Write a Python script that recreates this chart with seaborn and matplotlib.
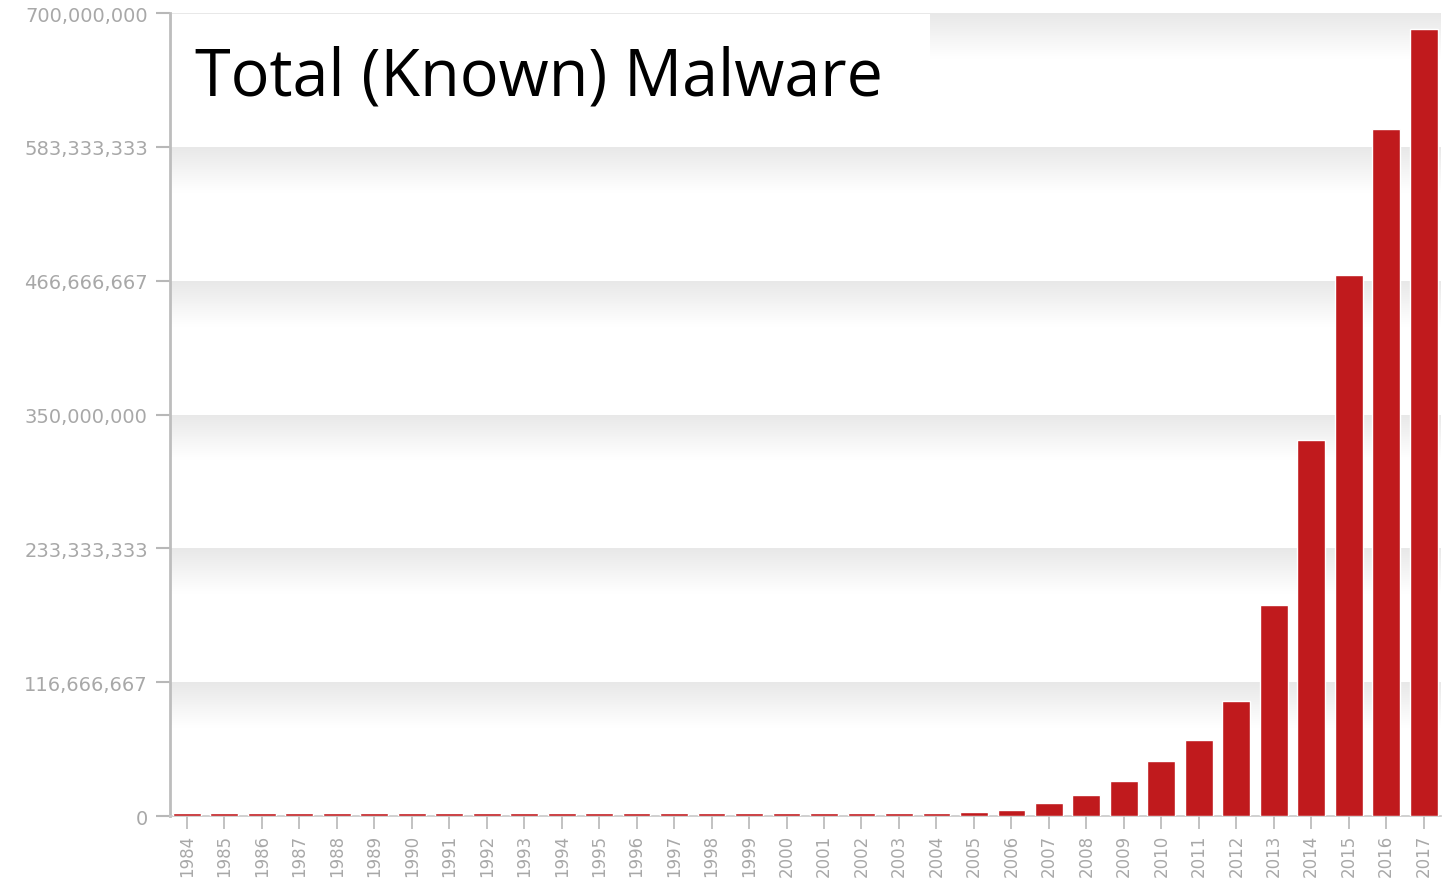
import numpy as np
import pandas as pd
import matplotlib
matplotlib.use("Agg")
import matplotlib.pyplot as plt
from matplotlib.patches import Rectangle
import seaborn as sns

years = [str(y) for y in range(1984, 2018)]
malware = [2.5e6, 2.5e6, 2.5e6, 2.5e6, 2.5e6, 2.5e6, 2.5e6, 2.5e6, 2.5e6, 2.5e6,
           2.5e6, 2.5e6, 2.5e6, 2.5e6, 2.5e6, 2.5e6, 2.8e6, 2.8e6, 2.8e6, 2.8e6,
           3e6, 3.5e6, 5e6, 11e6, 18.5e6, 30.5e6, 48e6, 66e6, 100e6, 184e6,
           328e6, 472e6, 599e6, 686e6]
ytick_vals = [0, 116666667, 233333333, 350000000, 466666667, 583333333, 700000000]
ytick_labels = ["0", "116,666,667", "233,333,333", "350,000,000",
                "466,666,667", "583,333,333", "700,000,000"]

df = pd.DataFrame({"year": years, "count": malware})

sns.set_style("white")
fig = plt.figure(figsize=(14.43, 8.79), dpi=100)
ax = fig.add_axes([0.1178, 0.0705, 0.8805, 0.9135])

sns.barplot(data=df, x="year", y="count", color="#c01a1d", saturation=1,
            width=0.74, ax=ax, zorder=3)

xmin, xmax = -0.45, 33.45

# gradient bands between gridlines
grad = np.linspace(0, 1, 200)
shade = np.clip(grad * 3.0, 0, 1)
img = np.ones((200, 1, 3))
col = 0.91 + (1 - 0.91) * shade
img[:, 0, :] = col[:, None]
for lo, hi in zip(ytick_vals[:-1], ytick_vals[1:]):
    ax.imshow(img, extent=(xmin, xmax, lo, hi), aspect="auto",
              origin="upper", zorder=0)
ax.set_ylim(0, 700000000)
ax.set_xlim(xmin, xmax)

ax.set_yticks(ytick_vals)
ax.set_yticklabels(ytick_labels)
ax.tick_params(axis="y", colors="#b8b8b8", labelsize=14, length=10, width=1.5,
               pad=6, direction="out", left=True)
ax.tick_params(axis="x", colors="#b8b8b8", labelsize=12, length=9, width=1.2,
               pad=4, direction="out", bottom=True, labelrotation=90)
for lbl in ax.get_yticklabels() + ax.get_xticklabels():
    lbl.set_color("#a8a8a8")

ax.set_xlabel("")
ax.set_ylabel("")
for s in ["top", "right"]:
    ax.spines[s].set_visible(False)
ax.spines["left"].set_color("#bdbdbd")
ax.spines["left"].set_linewidth(2)
ax.spines["bottom"].set_color("#c8c8c8")
ax.spines["bottom"].set_linewidth(1.2)

# white title box
fig.patches.append(Rectangle((172 / 1443, 1 - 115 / 879), (930 - 172) / 1443, 100 / 879,
                             transform=fig.transFigure, facecolor="white",
                             edgecolor="none", zorder=5))
fig.text(195 / 1443, 1 - 95 / 879, "Total (Known) Malware", fontsize=46.5,
         family="Open Sans", color="black", va="baseline", ha="left", zorder=6)

fig.savefig("out.png", dpi=100, facecolor="white")
